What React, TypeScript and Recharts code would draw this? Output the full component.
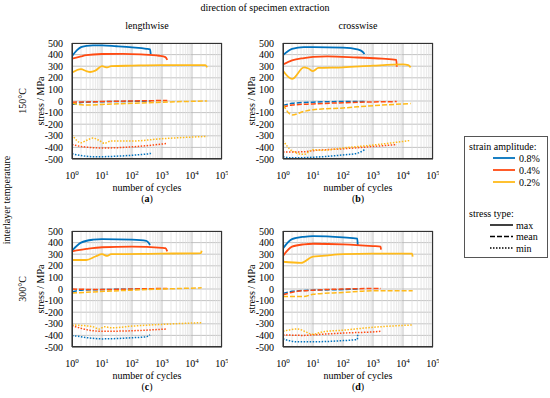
import React from 'react'
import { LineChart, Line, XAxis, YAxis, CartesianGrid, ReferenceLine } from 'recharts'

// colours per strain amplitude
const blue = '#0072BD'
const red = '#FF4A12'
const yellow = '#FFBA1A'

const yTicks = [-500, -400, -300, -200, -100, 0, 100, 200, 300, 400, 500]
const xTicks = [1, 10, 100, 1000, 10000, 100000]
const minorFactors = [2, 3, 4, 5, 6, 7, 8, 9]

// (a) lengthwise, 150°C  — [cycles, stress]
const aMax08 = [[1, 386], [1.5, 440], [2, 465], [3, 475], [5, 480], [10, 480], [30, 472], [100, 462], [300, 450], [400, 445], [420, 405]]
const aMean08 = [[1, -30], [1.5, -20], [2, -12], [5, -8], [10, -6], [100, -3], [420, 0]]
const aMin08 = [[1, -455], [2, -470], [5, -480], [10, -480], [30, -476], [100, -468], [300, -458], [400, -455], [420, -440]]
const aMax04 = [[1, 365], [2, 385], [3, 395], [10, 405], [50, 407], [200, 402], [800, 390], [1300, 378], [1500, 355]]
const aMean04 = [[1, -10], [3, -8], [10, -5], [100, 0], [1500, 5]]
const aMin04 = [[1, -375], [2, -392], [5, -402], [10, -405], [30, -403], [100, -395], [500, -380], [1500, -365]]
const aMax02 = [[1, 245], [2, 275], [3, 258], [4, 250], [6, 262], [10, 300], [15, 290], [20, 300], [100, 305], [1000, 310], [28000, 310], [32000, 290]]
const aMean02 = [[1, -20], [3, -35], [10, -30], [100, -20], [1000, -10], [32000, 0]]
const aMin02 = [[1, -290], [2, -360], [3, -340], [5, -320], [8, -340], [12, -365], [20, -345], [100, -345], [1000, -325], [32000, -305]]

// (b) crosswise, 150°C
const bMax08 = [[1, 395], [2, 450], [5, 465], [10, 465], [100, 460], [300, 445], [450, 425], [520, 405]]
const bMean08 = [[1, -40], [2, -20], [10, -10], [100, -5], [520, -5]]
const bMin08 = [[1, -480], [2, -490], [10, -485], [100, -465], [300, -450], [520, -420]]
const bMax04 = [[1, 315], [2, 350], [5, 370], [10, 380], [30, 385], [300, 375], [2000, 365], [6000, 355], [6200, 295]]
const bMean04 = [[1, -50], [2, -35], [10, -25], [100, -15], [1000, -8], [6200, -5]]
const bMin04 = [[1, -440], [5, -438], [10, -428], [100, -412], [1000, -392], [6200, -375]]
const bMax02 = [[1, 260], [2, 190], [5, 290], [7, 280], [10, 258], [15, 285], [100, 290], [1000, 305], [10000, 315], [15000, 310], [18000, 290]]
const bMean02 = [[1, -30], [2, -120], [5, -90], [10, -75], [100, -60], [1000, -40], [18000, -22]]
const bMin02 = [[1, -340], [2, -430], [5, -460], [10, -420], [20, -425], [100, -405], [1000, -380], [18000, -340]]

// (c) lengthwise, 300°C
const cMax08 = [[1, 330], [2, 400], [5, 425], [10, 430], [100, 425], [300, 415], [400, 380]]
const cMean08 = [[1, -25], [2, -10], [10, -5], [400, 0]]
const cMin08 = [[1, -400], [5, -425], [10, -430], [100, -420], [300, -412], [400, -395]]
const cMax04 = [[1, 325], [3, 345], [10, 360], [100, 365], [1000, 355], [1300, 352], [1500, 325]]
const cMean04 = [[1, 0], [10, -5], [100, 0], [1500, 5]]
const cMin04 = [[1, -315], [3, -350], [10, -365], [100, -360], [1500, -345]]
const cMax02 = [[1, 250], [3, 250], [6, 280], [10, 300], [15, 285], [20, 300], [1000, 305], [20000, 310], [21000, 330]]
const cMean02 = [[1, -35], [5, -25], [100, -10], [21000, 10]]
const cMin02 = [[1, -310], [5, -325], [8, -345], [12, -325], [20, -335], [100, -320], [1000, -305], [21000, -290]]

// (d) crosswise, 300°C
const dMax08 = [[1, 350], [2, 430], [5, 450], [10, 455], [100, 445], [300, 435], [310, 375]]
const dMean08 = [[1, -40], [2, -20], [10, -10], [100, -5], [310, 0]]
const dMin08 = [[1, -430], [3, -455], [10, -455], [100, -445], [300, -435], [310, -385]]
const dMax04 = [[1, 285], [2, 365], [5, 385], [10, 390], [100, 385], [1000, 370], [1800, 365], [1850, 340]]
const dMean04 = [[1, -50], [3, -20], [10, -10], [100, 0], [1850, 5]]
const dMin04 = [[1, -395], [5, -400], [10, -395], [100, -380], [1800, -365], [1850, -355]]
const dMax02 = [[1, 235], [4, 225], [10, 280], [20, 285], [100, 300], [1000, 305], [20000, 305], [21000, 280]]
const dMean02 = [[1, -65], [5, -65], [10, -45], [100, -30], [1000, -15], [21000, -15]]
const dMin02 = [[1, -365], [3, -345], [10, -390], [20, -370], [100, -355], [1000, -330], [21000, -310]]

const toPts = (arr: number[][]) => arr.map(([x, y]) => ({ x, y }))

type Series = { data: number[][]; color: string; kind: 'max' | 'mean' | 'min' }

const panels: { left: number; top: number; series: Series[] }[] = [
  {
    left: 72, top: 43,
    series: [
      { data: aMax08, color: blue, kind: 'max' }, { data: aMean08, color: blue, kind: 'mean' }, { data: aMin08, color: blue, kind: 'min' },
      { data: aMax04, color: red, kind: 'max' }, { data: aMean04, color: red, kind: 'mean' }, { data: aMin04, color: red, kind: 'min' },
      { data: aMax02, color: yellow, kind: 'max' }, { data: aMean02, color: yellow, kind: 'mean' }, { data: aMin02, color: yellow, kind: 'min' },
    ],
  },
  {
    left: 283, top: 43,
    series: [
      { data: bMax08, color: blue, kind: 'max' }, { data: bMean08, color: blue, kind: 'mean' }, { data: bMin08, color: blue, kind: 'min' },
      { data: bMax04, color: red, kind: 'max' }, { data: bMean04, color: red, kind: 'mean' }, { data: bMin04, color: red, kind: 'min' },
      { data: bMax02, color: yellow, kind: 'max' }, { data: bMean02, color: yellow, kind: 'mean' }, { data: bMin02, color: yellow, kind: 'min' },
    ],
  },
  {
    left: 72, top: 231,
    series: [
      { data: cMax08, color: blue, kind: 'max' }, { data: cMean08, color: blue, kind: 'mean' }, { data: cMin08, color: blue, kind: 'min' },
      { data: cMax04, color: red, kind: 'max' }, { data: cMean04, color: red, kind: 'mean' }, { data: cMin04, color: red, kind: 'min' },
      { data: cMax02, color: yellow, kind: 'max' }, { data: cMean02, color: yellow, kind: 'mean' }, { data: cMin02, color: yellow, kind: 'min' },
    ],
  },
  {
    left: 283, top: 231,
    series: [
      { data: dMax08, color: blue, kind: 'max' }, { data: dMean08, color: blue, kind: 'mean' }, { data: dMin08, color: blue, kind: 'min' },
      { data: dMax04, color: red, kind: 'max' }, { data: dMean04, color: red, kind: 'mean' }, { data: dMin04, color: red, kind: 'min' },
      { data: dMax02, color: yellow, kind: 'max' }, { data: dMean02, color: yellow, kind: 'mean' }, { data: dMin02, color: yellow, kind: 'min' },
    ],
  },
]

const PW = 150
const PH = 116
const ML = 40
const MT = 6
const MR = 6
const XH = 24
const FONT = '"Liberation Serif", "DejaVu Serif", serif'

const dashFor = (k: string) => (k === 'mean' ? '5 2' : k === 'min' ? '1.5 1.5' : undefined)

function XTick({ x, y, payload }: any) {
  const exp = Math.round(Math.log10(payload.value))
  return (
    <text x={x} y={y + 12} textAnchor="middle" fontSize={10} fill="#000" fontFamily={FONT}>
      10<tspan dy={-4} fontSize={7}>{exp}</tspan>
    </text>
  )
}

function Panel({ left, top, series }: { left: number; top: number; series: Series[] }) {
  const minor: number[] = []
  xTicks.slice(0, 5).forEach((d) => minorFactors.forEach((f) => minor.push(d * f)))
  return (
    <div style={{ position: 'absolute', left: left - ML, top: top - MT }}>
      <LineChart width={PW + ML + MR} height={PH + MT + XH} margin={{ top: MT, right: MR, left: 0, bottom: 0 }}>
        <CartesianGrid stroke="#b4b4b4" strokeWidth={0.8} />
        {minor.map((v) => (
          <ReferenceLine key={v} x={v} stroke="#dcdcdc" strokeWidth={0.7} />
        ))}
        <XAxis
          dataKey="x"
          type="number"
          scale="log"
          domain={[1, 100000]}
          ticks={xTicks}
          interval={0}
          allowDataOverflow
          height={XH}
          tick={<XTick />}
          tickLine={false}
          axisLine={{ stroke: '#333' }}
        />
        <YAxis
          type="number"
          domain={[-500, 500]}
          ticks={yTicks}
          width={ML}
          tickLine={false}
          tickMargin={3}
          interval={0}
          tick={{ fontSize: 10, fill: '#000', fontFamily: FONT }}
          axisLine={{ stroke: '#333' }}
        />
        {series.map((s, i) => (
          <Line
            key={i}
            data={toPts(s.data)}
            dataKey="y"
            type="monotone"
            stroke={s.color}
            strokeWidth={s.kind === 'max' ? 1.8 : 1.5}
            strokeDasharray={dashFor(s.kind)}
            dot={false}
            activeDot={false}
            isAnimationActive={false}
          />
        ))}
      </LineChart>
    </div>
  )
}

export default function App() {
  const txt = { fontSize: 10, fill: '#000', fontFamily: FONT }
  return (
    <div style={{ position: 'absolute', left: 0, top: 0, width: 550, height: 398, background: '#fff', fontFamily: FONT, overflow: 'hidden' }}>
      {panels.map((p, i) => (
        <Panel key={i} {...p} />
      ))}
      <svg width={550} height={398} style={{ position: 'absolute', left: 0, top: 0, pointerEvents: 'none' }}>
        <text x={265} y={11} textAnchor="middle" {...txt}>direction of specimen extraction</text>
        <text x={147} y={29} textAnchor="middle" {...txt}>lengthwise</text>
        <text x={358} y={29} textAnchor="middle" {...txt}>crosswise</text>
        <text transform="translate(10,200) rotate(-90)" textAnchor="middle" {...txt}>interlayer temperature</text>
        <text transform="translate(26,101) rotate(-90)" textAnchor="middle" {...txt}>150°C</text>
        <text transform="translate(26,289) rotate(-90)" textAnchor="middle" {...txt}>300°C</text>
        {panels.map((p, i) => (
          <g key={i}>
            <rect x={p.left + 0.5} y={p.top + 0.5} width={PW - 1} height={PH - 1} fill="none" stroke="#333" strokeWidth={1} />
            <text transform={`translate(${p.left - 28},${p.top + PH / 2}) rotate(-90)`} textAnchor="middle" {...txt}>stress / MPa</text>
            <text x={p.left + PW / 2} y={p.top + PH + 32} textAnchor="middle" {...txt}>number of cycles</text>
            <text x={p.left + PW / 2} y={p.top + PH + 43} textAnchor="middle" {...txt}>
              (<tspan fontWeight="bold">{'abcd'[i]}</tspan>)
            </text>
          </g>
        ))}
        <rect x={464.5} y={136.5} width={83} height={121} fill="#fff" stroke="#555" strokeWidth={1} />
        <text x={469} y={150} {...txt}>strain amplitude:</text>
        {[['0.8%', blue], ['0.4%', red], ['0.2%', yellow]].map(([l, c], i) => (
          <g key={l}>
            <line x1={493} x2={515} y1={158 + i * 12} y2={158 + i * 12} stroke={c} strokeWidth={1.8} />
            <text x={519} y={161.5 + i * 12} {...txt}>{l}</text>
          </g>
        ))}
        <text x={469} y={217} {...txt}>stress type:</text>
        {[['max', undefined], ['mean', '5 2'], ['min', '1.5 1.5']].map(([l, d], i) => (
          <g key={l}>
            <line x1={490} x2={513} y1={225 + i * 11.5} y2={225 + i * 11.5} stroke="#000" strokeWidth={1.5} strokeDasharray={d} />
            <text x={516} y={228.5 + i * 11.5} {...txt}>{l}</text>
          </g>
        ))}
      </svg>
    </div>
  )
}
